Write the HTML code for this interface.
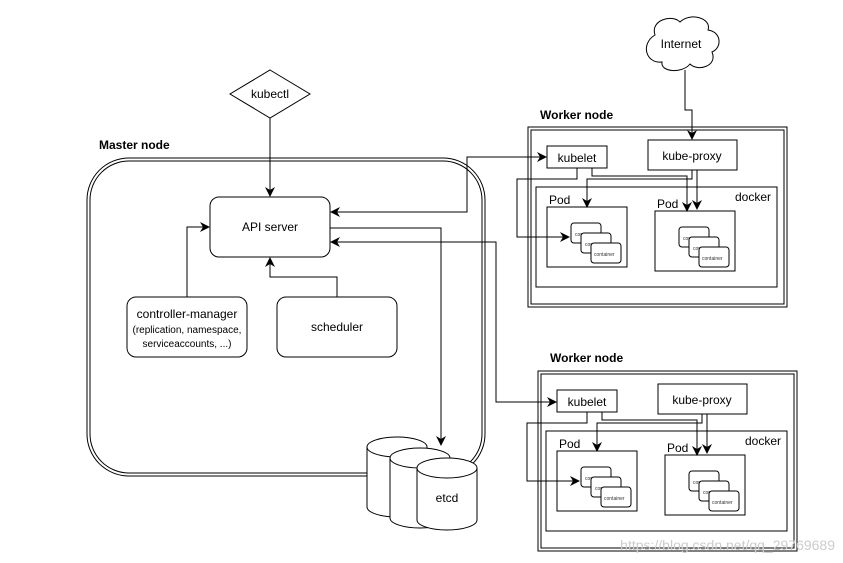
<!DOCTYPE html>
<html><head><style>
body{margin:0;background:#fff;}
svg{display:block;font-family:"Liberation Sans",Arial,sans-serif;}
</style></head><body>
<svg width="843" height="563" viewBox="0 0 843 563" xmlns="http://www.w3.org/2000/svg">
<defs>
<marker id="a" markerWidth="10" markerHeight="10" refX="9" refY="5" orient="auto-start-reverse" markerUnits="userSpaceOnUse">
<path d="M0,0 L10,5 L0,10 L3,5 z" fill="#000"/></marker>
<g id="wk">
  <rect x="528" y="127" width="259" height="180" fill="none" stroke="#000" stroke-width="1"/>
  <rect x="531" y="130" width="253" height="174" fill="none" stroke="#000" stroke-width="1"/>
  <rect x="547" y="146" width="60" height="22" fill="#fff" stroke="#000"/>
  <text x="577" y="162" font-size="12" text-anchor="middle">kubelet</text>
  <rect x="648" y="140" width="89" height="30" fill="#fff" stroke="#000"/>
  <text x="692" y="160" font-size="12" text-anchor="middle">kube-proxy</text>
  <rect x="536" y="187" width="241" height="100" fill="none" stroke="#000"/>
  <text x="771" y="201" font-size="12" text-anchor="end">docker</text>
  <text x="549" y="204" font-size="12">Pod</text>
  <rect x="547" y="207" width="80" height="60" fill="#fff" stroke="#000"/>
  <text x="657" y="208" font-size="12">Pod</text>
  <rect x="655" y="211" width="80" height="60" fill="#fff" stroke="#000"/>
  <g font-size="5" fill="#333">
  <rect x="571" y="223" width="30" height="20" rx="3" fill="#fff" stroke="#000"/><text x="575" y="236">con</text>
  <rect x="581" y="233" width="30" height="20" rx="3" fill="#fff" stroke="#000"/><text x="585" y="246">con</text>
  <rect x="591" y="243" width="30" height="20" rx="3" fill="#fff" stroke="#000"/><text x="594" y="256">container</text>
  <rect x="679" y="227" width="30" height="20" rx="3" fill="#fff" stroke="#000"/><text x="683" y="240">con</text>
  <rect x="689" y="237" width="30" height="20" rx="3" fill="#fff" stroke="#000"/><text x="693" y="250">con</text>
  <rect x="699" y="247" width="30" height="20" rx="3" fill="#fff" stroke="#000"/><text x="702" y="260">container</text>
  </g>
  <g fill="none" stroke="#000">
  <path d="M577,168 V179 H517 V237 H569" marker-end="url(#a)"/>
  <path d="M592,168 V176 H687 V211" marker-end="url(#a)"/>
  <path d="M692,170 V179 H587 V207" marker-end="url(#a)"/>
  <path d="M697,170 V209" marker-end="url(#a)"/>
  </g>
</g>
</defs>
<text x="99" y="149" font-size="12" font-weight="bold">Master node</text>
<rect x="87" y="158" width="398" height="318" rx="42" fill="none" stroke="#000"/>
<rect x="90" y="161" width="392" height="312" rx="39" fill="none" stroke="#000"/>
<polygon points="270,70 310,94 270,118 230,94" fill="#fff" stroke="#000"/>
<text x="270" y="98" font-size="12" text-anchor="middle">kubectl</text>
<rect x="210" y="197" width="120" height="60" rx="9" fill="#fff" stroke="#000"/>
<text x="270" y="231" font-size="12" text-anchor="middle">API server</text>
<rect x="127" y="297" width="120" height="60" rx="9" fill="#fff" stroke="#000"/>
<text x="187" y="318" font-size="12" text-anchor="middle">controller-manager</text>
<text x="187" y="333" font-size="10" text-anchor="middle">(replication, namespace,</text>
<text x="187" y="347" font-size="10" text-anchor="middle">serviceaccounts, ...)</text>
<rect x="277" y="297" width="120" height="60" rx="9" fill="#fff" stroke="#000"/>
<text x="337" y="331" font-size="12" text-anchor="middle">scheduler</text>
<g fill="none" stroke="#000">
<path d="M270,118 V196" marker-end="url(#a)"/>
<path d="M187,297 V227 H209" marker-end="url(#a)"/>
<path d="M337,297 V277 H270 V258" marker-end="url(#a)"/>
<path d="M546,157 H467 V212 H331" marker-end="url(#a)" marker-start="url(#a)"/>
<path d="M556,402 H496 V242 H331" marker-end="url(#a)" marker-start="url(#a)"/>
<path d="M330,228 H441 V445" marker-end="url(#a)"/>
<path d="M685,70 V110 H692 V139" marker-end="url(#a)"/>
</g>
<path d="M655,35 C650,20 672,14 680,22 C690,12 712,18 708,30 C722,32 722,48 712,52 C718,66 698,72 690,64 C682,74 660,72 662,62 C646,64 640,44 655,35 z" fill="#fff" stroke="#000"/>
<text x="681" y="48" font-size="12" text-anchor="middle">Internet</text>
<g fill="#fff" stroke="#000">
<path d="M367,447 V507 A30,10 0 0 0 427,507 V447"/><ellipse cx="397" cy="447" rx="30" ry="10"/>
<path d="M390,458 V518 A30,10 0 0 0 450,518 V458"/><ellipse cx="420" cy="458" rx="30" ry="10"/>
<path d="M417,468 V520 A30,10 0 0 0 477,520 V468"/><ellipse cx="447" cy="468" rx="30" ry="10"/>
</g>
<text x="447" y="502" font-size="12" text-anchor="middle">etcd</text>
<text x="540" y="119" font-size="12" font-weight="bold">Worker node</text>
<use href="#wk"/>
<text x="550" y="362" font-size="12" font-weight="bold">Worker node</text>
<use href="#wk" transform="translate(10,244)"/>
<text x="835" y="550" font-size="14" fill="#ccc" text-anchor="end">https://blog.csdn.net/qq_29769689</text>
</svg>
</body></html>
